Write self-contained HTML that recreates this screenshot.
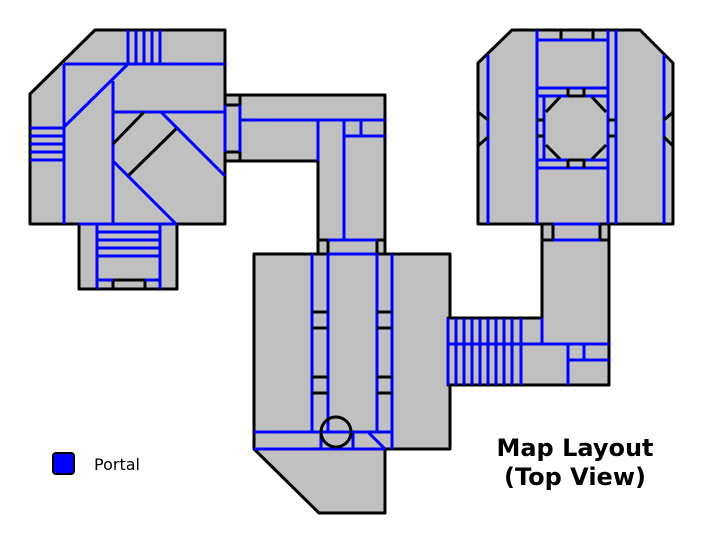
<!DOCTYPE html>
<html><head><meta charset="utf-8"><style>html,body{margin:0;padding:0;background:#fff}svg{display:block}</style></head><body>
<svg width="704" height="544" viewBox="0 0 704 544" xmlns="http://www.w3.org/2000/svg">
<g fill="#c0c0c0" stroke="#000" stroke-width="3" stroke-linejoin="round">
<polygon points="95,30 225,30 225,224 177,224 177,289 79,289 79,224 30,224 30,94"/>
<rect x="225" y="95" width="15" height="66"/>
<polygon points="240,95 385,95 385,240 318,240 318,161 240,161"/>
<rect x="318" y="240" width="67" height="14"/>
<polygon points="254,254 450,254 450,449 385,449 385,513 319,513 254,449"/>
<polygon points="448,318 542,318 542,240 609,240 609,385 448,385"/>
<rect x="542" y="224" width="67" height="16"/>
<polygon points="512,30 640,30 673,63 673,224 478,224 478,63"/>
</g>
<g fill="#c0c0c0" stroke="#000" stroke-width="3">
<rect x="225" y="95" width="15" height="10"/><rect x="225" y="152" width="15" height="9"/>
<rect x="318" y="240" width="10" height="14"/><rect x="377" y="240" width="8" height="14"/>
<rect x="542" y="224" width="11" height="16"/><rect x="600" y="224" width="9" height="16"/>
<rect x="113" y="280" width="32" height="9"/>
</g>
<g stroke="#0000ff" stroke-width="3" fill="none">
<line x1="64" y1="64" x2="225" y2="64"/><line x1="64" y1="64" x2="64" y2="224"/>
<line x1="128" y1="30" x2="128" y2="64"/><line x1="136" y1="30" x2="136" y2="64"/><line x1="144" y1="30" x2="144" y2="64"/><line x1="152" y1="30" x2="152" y2="64"/><line x1="160" y1="30" x2="160" y2="64"/>
<line x1="128" y1="64" x2="64" y2="127"/>
<line x1="113" y1="81" x2="113" y2="224"/><line x1="113" y1="112" x2="225" y2="112"/>
<line x1="161" y1="112" x2="225" y2="176"/><line x1="113" y1="161" x2="176" y2="224"/>
<line x1="30" y1="128" x2="64" y2="128"/><line x1="30" y1="136" x2="64" y2="136"/><line x1="30" y1="144" x2="64" y2="144"/><line x1="30" y1="152" x2="64" y2="152"/><line x1="30" y1="160" x2="64" y2="160"/>
<line x1="79" y1="224" x2="177" y2="224"/>
<line x1="97" y1="224" x2="97" y2="289"/><line x1="160" y1="224" x2="160" y2="289"/>
<line x1="97" y1="232" x2="160" y2="232"/><line x1="97" y1="240" x2="160" y2="240"/><line x1="97" y1="248" x2="160" y2="248"/><line x1="97" y1="256" x2="160" y2="256"/>
<line x1="97" y1="280" x2="113" y2="280"/><line x1="145" y1="280" x2="160" y2="280"/>
<line x1="225" y1="105" x2="225" y2="152"/><line x1="240" y1="105" x2="240" y2="152"/>
<line x1="240" y1="120" x2="385" y2="120"/><line x1="318" y1="120" x2="318" y2="161"/>
<line x1="344" y1="120" x2="344" y2="240"/><line x1="344" y1="136" x2="385" y2="136"/><line x1="361" y1="120" x2="361" y2="136"/>
<line x1="328" y1="240" x2="377" y2="240"/><line x1="328" y1="254" x2="377" y2="254"/>
<line x1="312" y1="254" x2="312" y2="432"/><line x1="328" y1="254" x2="328" y2="432"/><line x1="377" y1="254" x2="377" y2="432"/><line x1="392" y1="254" x2="392" y2="449"/>
<line x1="254" y1="432" x2="392" y2="432"/><line x1="254" y1="449" x2="385" y2="449"/>
<line x1="321" y1="432" x2="321" y2="449"/><line x1="353" y1="432" x2="353" y2="449"/>
<line x1="368" y1="432" x2="385" y2="449"/>
<line x1="448" y1="318" x2="448" y2="385"/><line x1="456" y1="318" x2="456" y2="385"/><line x1="464" y1="318" x2="464" y2="385"/><line x1="472" y1="318" x2="472" y2="385"/><line x1="480" y1="318" x2="480" y2="385"/><line x1="488" y1="318" x2="488" y2="385"/><line x1="496" y1="318" x2="496" y2="385"/><line x1="504" y1="318" x2="504" y2="385"/><line x1="512" y1="318" x2="512" y2="385"/><line x1="521" y1="318" x2="521" y2="385"/>
<line x1="448" y1="344" x2="609" y2="344"/><line x1="542" y1="318" x2="542" y2="344"/>
<line x1="568" y1="344" x2="568" y2="385"/><line x1="568" y1="360" x2="609" y2="360"/><line x1="584" y1="344" x2="584" y2="360"/>
<line x1="553" y1="224" x2="600" y2="224"/><line x1="553" y1="240" x2="600" y2="240"/>
<line x1="488" y1="55" x2="488" y2="224"/><line x1="537" y1="30" x2="537" y2="224"/><line x1="608" y1="30" x2="608" y2="224"/><line x1="616" y1="30" x2="616" y2="224"/><line x1="664" y1="55" x2="664" y2="224"/>
<line x1="537" y1="40" x2="608" y2="40"/><line x1="537" y1="88" x2="608" y2="88"/>
<line x1="537" y1="96" x2="568" y2="96"/><line x1="585" y1="96" x2="608" y2="96"/>
<line x1="537" y1="160" x2="568" y2="160"/><line x1="585" y1="160" x2="608" y2="160"/>
<line x1="537" y1="168" x2="608" y2="168"/>
<line x1="544" y1="96" x2="544" y2="160"/>
</g>
<g stroke="#000" stroke-width="3" fill="none">
<line x1="144" y1="112" x2="113" y2="144"/><line x1="176" y1="129" x2="129" y2="175"/>
<line x1="312" y1="312" x2="328" y2="312"/><line x1="312" y1="328" x2="328" y2="328"/><line x1="312" y1="377" x2="328" y2="377"/><line x1="312" y1="393" x2="328" y2="393"/>
<line x1="377" y1="312" x2="392" y2="312"/><line x1="377" y1="328" x2="392" y2="328"/><line x1="377" y1="377" x2="392" y2="377"/><line x1="377" y1="393" x2="392" y2="393"/>
<circle cx="336" cy="432" r="15"/>
<line x1="561" y1="30" x2="561" y2="40"/><line x1="593" y1="30" x2="593" y2="40"/>
<line x1="568" y1="96" x2="585" y2="96"/><line x1="568" y1="88" x2="568" y2="96"/><line x1="584" y1="88" x2="584" y2="96"/>
<line x1="568" y1="160" x2="585" y2="160"/><line x1="568" y1="160" x2="568" y2="168"/><line x1="584" y1="160" x2="584" y2="168"/>
<line x1="546" y1="112" x2="560" y2="97"/><line x1="592" y1="97" x2="606" y2="112"/>
<line x1="546" y1="145" x2="560" y2="159"/><line x1="592" y1="159" x2="606" y2="145"/>
<line x1="537" y1="120" x2="544" y2="120"/><line x1="537" y1="136" x2="544" y2="136"/>
<line x1="608" y1="120" x2="615" y2="120"/><line x1="608" y1="136" x2="615" y2="136"/>
<line x1="478" y1="112" x2="488" y2="120"/><line x1="488" y1="137" x2="478" y2="146"/>
<line x1="673" y1="112" x2="664" y2="120"/><line x1="664" y1="137" x2="673" y2="146"/>
</g>
<rect x="53" y="453" width="21" height="21" rx="3" fill="#0000ff" stroke="#000" stroke-width="2"/>
<text x="94" y="470" font-family="DejaVu Sans, sans-serif" font-size="16">Portal</text>
<text x="575" y="456" text-anchor="middle" font-family="DejaVu Sans, sans-serif" font-weight="bold" font-size="24">Map Layout</text>
<text x="575" y="485" text-anchor="middle" font-family="DejaVu Sans, sans-serif" font-weight="bold" font-size="24">(Top View)</text>
</svg>
</body></html>
